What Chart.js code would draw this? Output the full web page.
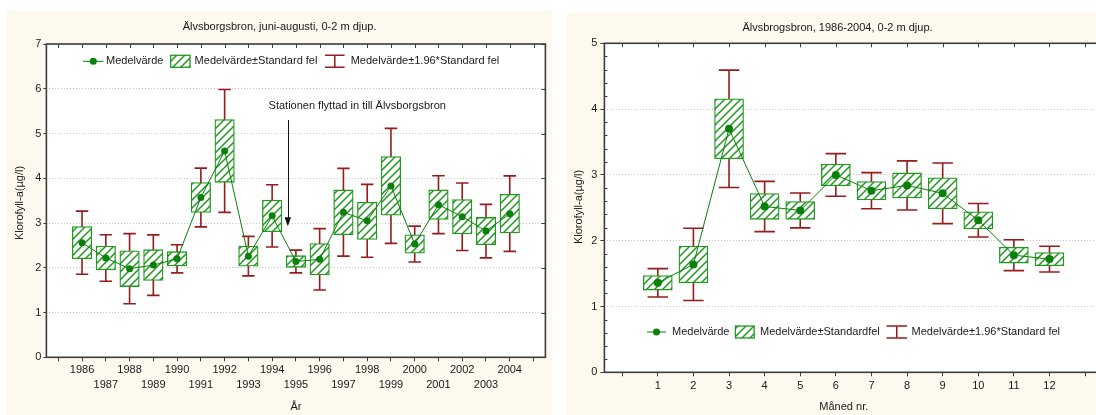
<!DOCTYPE html>
<html>
<head>
<meta charset="utf-8">
<script src="https://cdn.jsdelivr.net/npm/chart.js@4.4.1/dist/chart.umd.min.js"></script>
<style>
html, body { margin: 0; padding: 0; background: #fff; overflow: hidden; width: 1096px; height: 415px; }
#left { position: absolute; left: 0; top: 0; }
#right { position: absolute; left: 560px; top: 0; }
</style>
</head>
<body>
<canvas id="left" width="556" height="415" style="width:556px;height:415px"></canvas>
<canvas id="right" width="560" height="415" style="width:560px;height:415px"></canvas>
<script>
// left chart: summer values per year
const years = [1986, 1987, 1988, 1989, 1990, 1991, 1992, 1993, 1994, 1995, 1996, 1997, 1998, 1999, 2000, 2001, 2002, 2003, 2004];
const yearTicks = [1985, 1986, 1987, 1988, 1989, 1990, 1991, 1992, 1993, 1994, 1995, 1996, 1997, 1998, 1999, 2000, 2001, 2002, 2003, 2004, 2005];
const meanYear = [2.56, 2.22, 1.98, 2.06, 2.20, 3.57, 4.61, 2.26, 3.16, 2.14, 2.19, 3.24, 3.05, 3.83, 2.53, 3.41, 3.14, 2.82, 3.21];
const seYear = [0.36, 0.265, 0.40, 0.345, 0.16, 0.335, 0.70, 0.225, 0.355, 0.13, 0.35, 0.50, 0.415, 0.655, 0.205, 0.33, 0.385, 0.305, 0.43];
const moveNote = { year: 1994.65, from: 5.3, to: 2.93, text: 'Stationen flyttad in till Älvsborgsbron' };

// right chart: per month
const months = [1, 2, 3, 4, 5, 6, 7, 8, 9, 10, 11, 12];
const monthTicks = [0, 1, 2, 3, 4, 5, 6, 7, 8, 9, 10, 11, 12, 13];
const meanMonth = [1.36, 1.64, 3.70, 2.52, 2.46, 3.00, 2.76, 2.84, 2.72, 2.31, 1.78, 1.72];
const seMonth = [0.11, 0.28, 0.455, 0.195, 0.135, 0.165, 0.14, 0.19, 0.235, 0.13, 0.12, 0.10];

const GREEN = '#0a800a';
const BOX_GREEN = '#1f9a1f';
const RED = '#961c1c';
const PANEL = '#fdf9ee';
const FRAME = '#3c3c3c';
const FONT = '"Liberation Sans", Arial, sans-serif';

Chart.defaults.font.family = FONT;
Chart.defaults.font.size = 11;
Chart.defaults.color = '#1a1a1a';

function hatchPattern(ctx) {
    const c = document.createElement('canvas');
    c.width = 8; c.height = 8;
    const g = c.getContext('2d');
    g.fillStyle = '#fff';
    g.fillRect(0, 0, 8, 8);
    g.strokeStyle = BOX_GREEN;
    g.lineWidth = 1.5;
    g.beginPath();
    g.moveTo(-1, 9); g.lineTo(9, -1);
    g.moveTo(-1, 1); g.lineTo(1, -1);
    g.moveTo(7, 9); g.lineTo(9, 7);
    g.stroke();
    return ctx.createPattern(c, 'repeat');
}

function drawLegend(ctx, pattern, y, items) {
    ctx.save();
    ctx.font = '11px ' + FONT;
    ctx.textBaseline = 'middle';
    ctx.fillStyle = '#1a1a1a';
    // line + dot
    ctx.strokeStyle = GREEN; ctx.lineWidth = 1;
    ctx.beginPath(); ctx.moveTo(items.line[0], y); ctx.lineTo(items.line[1], y); ctx.stroke();
    ctx.fillStyle = GREEN;
    ctx.beginPath(); ctx.arc((items.line[0] + items.line[1]) / 2, y, 3.5, 0, Math.PI * 2); ctx.fill();
    ctx.fillStyle = '#1a1a1a';
    ctx.fillText(items.labels[0], items.text[0], y);
    // hatched box
    const [bx0, bx1] = items.box;
    ctx.fillStyle = pattern;
    ctx.fillRect(bx0, y - 6, bx1 - bx0, 12);
    ctx.strokeStyle = BOX_GREEN; ctx.lineWidth = 1.3;
    ctx.strokeRect(bx0, y - 6, bx1 - bx0, 12);
    ctx.fillStyle = '#1a1a1a';
    ctx.fillText(items.labels[1], items.text[1], y);
    // whisker
    const [wx0, wx1] = items.whisker;
    const wm = (wx0 + wx1) / 2;
    ctx.strokeStyle = RED; ctx.lineWidth = 1.5;
    ctx.beginPath();
    ctx.moveTo(wx0, y - 6); ctx.lineTo(wx1, y - 6);
    ctx.moveTo(wm, y - 6); ctx.lineTo(wm, y + 6);
    ctx.moveTo(wx0, y + 6); ctx.lineTo(wx1, y + 6);
    ctx.stroke();
    ctx.fillText(items.labels[2], items.text[2], y);
    ctx.restore();
}

function makeDecor(cfg) {
    return {
        id: 'decor',
        beforeDraw(chart) {
            const ctx = chart.ctx;
            ctx.save();
            ctx.fillStyle = PANEL;
            ctx.fillRect(cfg.panel[0], cfg.panel[1], cfg.panel[2], cfg.panel[3]);
            ctx.fillStyle = '#fff';
            const a = chart.chartArea;
            ctx.fillRect(a.left, a.top, a.right - a.left, a.bottom - a.top);
            ctx.restore();
        },
        beforeDatasetsDraw(chart) {
            const { ctx, scales: { x, y } } = chart;
            ctx.save();
            ctx.strokeStyle = RED;
            ctx.lineWidth = 1.6;
            cfg.xs.forEach((v, i) => {
                const px = x.getPixelForValue(v);
                const top = y.getPixelForValue(cfg.means[i] + 1.96 * cfg.ses[i]);
                const bot = y.getPixelForValue(cfg.means[i] - 1.96 * cfg.ses[i]);
                const h = cfg.cap / 2;
                ctx.beginPath();
                ctx.moveTo(px, top); ctx.lineTo(px, bot);
                ctx.moveTo(px - h, top); ctx.lineTo(px + h, top);
                ctx.moveTo(px - h, bot); ctx.lineTo(px + h, bot);
                ctx.stroke();
            });
            ctx.restore();
        },
        afterDraw(chart) {
            const { ctx, chartArea: a, scales: { x, y } } = chart;
            ctx.save();
            // frame
            ctx.strokeStyle = FRAME;
            ctx.lineWidth = 1.6;
            ctx.strokeRect(a.left, a.top, a.right - a.left, a.bottom - a.top);
            // inward ticks on top and right
            ctx.lineWidth = 1;
            ctx.beginPath();
            x.ticks.forEach(t => {
                const px = Math.round(x.getPixelForValue(t.value)) + 0.5;
                ctx.moveTo(px, a.top); ctx.lineTo(px, a.top + 4);
            });
            y.ticks.forEach(t => {
                const py = Math.round(y.getPixelForValue(t.value)) + 0.5;
                ctx.moveTo(a.right, py); ctx.lineTo(a.right - 4, py);
            });
            if (cfg.minorStep) {
                for (let v = cfg.minorStep; v < y.max; v += cfg.minorStep) {
                    if (Math.abs(v - Math.round(v)) < 1e-6) continue;
                    const py = Math.round(y.getPixelForValue(v)) + 0.5;
                    ctx.moveTo(a.left, py); ctx.lineTo(a.left + 3, py);
                }
            }
            ctx.stroke();
            // texts
            ctx.fillStyle = '#1a1a1a';
            ctx.font = '11px ' + FONT;
            ctx.textAlign = 'center';
            ctx.textBaseline = 'middle';
            ctx.fillText(cfg.title, cfg.titleAt[0], cfg.titleAt[1]);
            ctx.fillText(cfg.xTitle, cfg.xTitleAt[0], cfg.xTitleAt[1]);
            ctx.save();
            ctx.translate(cfg.yTitleAt[0], cfg.yTitleAt[1]);
            ctx.rotate(-Math.PI / 2);
            ctx.fillText('Klorofyll-a(µg/l)', 0, 0);
            ctx.restore();
            if (cfg.note) {
                const n = cfg.note;
                const px = x.getPixelForValue(n.year);
                const y0 = y.getPixelForValue(n.from);
                const y1 = y.getPixelForValue(n.to);
                ctx.textAlign = 'left';
                ctx.fillText(n.text, px - 19, y.getPixelForValue(n.from) - 14);
                ctx.strokeStyle = '#111';
                ctx.lineWidth = 1;
                ctx.beginPath();
                ctx.moveTo(Math.round(px) + 0.5, y0); ctx.lineTo(Math.round(px) + 0.5, y1 - 6);
                ctx.stroke();
                ctx.fillStyle = '#111';
                ctx.beginPath();
                ctx.moveTo(px - 3, y1 - 9); ctx.lineTo(px + 3.5, y1 - 9); ctx.lineTo(px + 0.25, y1); ctx.closePath();
                ctx.fill();
            }
            ctx.restore();
            drawLegend(ctx, cfg.pattern, cfg.legendY, cfg.legend);
        }
    };
}

function buildChart(id, opt) {
    const ctx = document.getElementById(id).getContext('2d');
    const pattern = hatchPattern(ctx);
    return new Chart(ctx, {
        type: 'bar',
        data: {
            datasets: [{
                type: 'line',
                data: opt.xs.map((v, i) => ({ x: v, y: opt.means[i] })),
                borderColor: GREEN,
                backgroundColor: GREEN,
                borderWidth: 1,
                pointRadius: opt.pointRadius,
                pointBackgroundColor: GREEN,
                pointBorderWidth: 0,
                tension: 0,
                order: 0
            }, {
                type: 'bar',
                data: opt.xs.map((v, i) => ({ x: v, y: [opt.means[i] - opt.ses[i], opt.means[i] + opt.ses[i]] })),
                backgroundColor: pattern,
                borderColor: BOX_GREEN,
                borderWidth: 1.3,
                borderSkipped: false,
                barThickness: opt.barWidth,
                grouped: false,
                order: 1
            }]
        },
        options: {
            responsive: false,
            animation: false,
            events: [],
            layout: { padding: opt.padding },
            plugins: { legend: { display: false }, tooltip: { enabled: false }, title: { display: false } },
            scales: {
                x: {
                    type: 'linear',
                    min: opt.xRange[0],
                    max: opt.xRange[1],
                    offset: false,
                    afterBuildTicks: s => { s.ticks = opt.xTicks.map(v => ({ value: v })); },
                    afterFit: s => { s.height = opt.xHeight; },
                    grid: { offset: false, drawOnChartArea: false, drawTicks: true, tickLength: 4, tickColor: FRAME },
                    border: { display: false },
                    ticks: {
                        autoSkip: false,
                        maxRotation: 0,
                        padding: opt.xPad,
                        font: { size: 11, lineHeight: opt.xLineHeight },
                        callback: opt.xLabel
                    }
                },
                y: {
                    min: 0,
                    max: opt.yMax,
                    afterFit: s => { s.width = opt.yWidth; },
                    grid: { color: '#c6c6c6', tickColor: FRAME, tickLength: opt.yTick, tickBorderDash: [] },
                    border: { display: false, dash: [1, 2] },
                    ticks: { stepSize: 1, padding: opt.yPad }
                }
            }
        },
        plugins: [makeDecor(Object.assign({ pattern }, opt.decor))]
    });
}

buildChart('left', {
    xs: years, means: meanYear, ses: seYear,
    xTicks: yearTicks, xRange: [1984.5, 2005.5],
    xLabel: v => years.includes(v) ? (v % 2 === 0 ? String(v) : ['', String(v)]) : '',
    yMax: 7, barWidth: 19.5, pointRadius: 3.5,
    padding: { left: 0, top: 44, right: 10.6, bottom: 0 },
    yWidth: 46.4, xHeight: 57.7, xPad: 1.5, xLineHeight: 1.35, yTick: 3, yPad: 2,
    decor: {
        xs: years, means: meanYear, ses: seYear, cap: 12.5,
        panel: [7, 11, 545, 404],
        title: 'Älvsborgsbron, juni-augusti, 0-2 m djup.', titleAt: [279.6, 27.3],
        xTitle: 'År', xTitleAt: [296, 406.5],
        yTitleAt: [19.6, 203],
        note: moveNote,
        legendY: 61.3,
        legend: {
            line: [83, 103.6], box: [170.7, 190], whisker: [325, 344.6],
            text: [106, 194.6, 350.7],
            labels: ['Medelvärde', 'Medelvärde±Standard fel', 'Medelvärde±1.96*Standard fel']
        }
    }
});

buildChart('right', {
    xs: months, means: meanMonth, ses: seMonth,
    xTicks: monthTicks, xRange: [-0.5, 13.5],
    xLabel: v => months.includes(v) ? String(v) : '',
    yMax: 5, barWidth: 29, pointRadius: 4,
    padding: { left: 0, top: 43.3, right: 17.1, bottom: 0 },
    yWidth: 44.4, xHeight: 42.7, xPad: 2.8, xLineHeight: 1.2, yTick: 4, yPad: 3,
    decor: {
        xs: months, means: meanMonth, ses: seMonth, cap: 20.5, minorStep: 0.2,
        panel: [6.7, 12.7, 560, 403],
        title: 'Älvsbrogsbron, 1986-2004, 0-2 m djup.', titleAt: [277.5, 28.3],
        xTitle: 'Måned nr.', xTitleAt: [283.8, 406.5],
        yTitleAt: [18.8, 207],
        legendY: 332,
        legend: {
            line: [87, 106], box: [175.4, 194.2], whisker: [326.5, 347],
            text: [112, 200, 351.5],
            labels: ['Medelvärde', 'Medelvärde±Standardfel', 'Medelvärde±1.96*Standard fel']
        }
    }
});
</script>
</body>
</html>
